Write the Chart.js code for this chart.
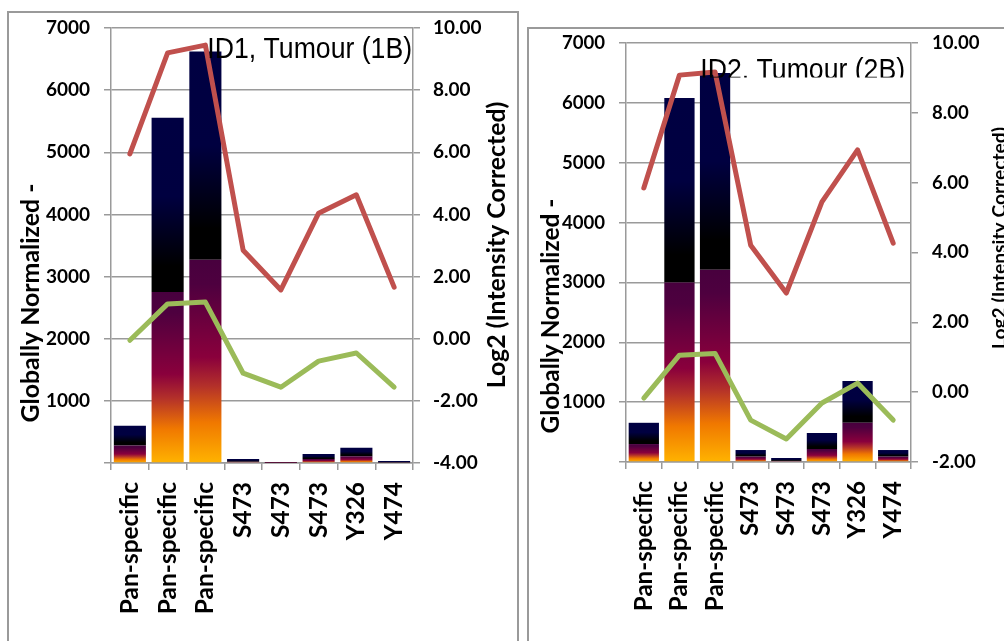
<!DOCTYPE html>
<html><head><meta charset="utf-8">
<script src="https://cdn.jsdelivr.net/npm/chart.js@4.4.1/dist/chart.umd.min.js"></script>
<style>
html,body{margin:0;padding:0;background:#fff;}
body{width:1004px;height:641px;overflow:hidden;position:relative;}
.frame{position:absolute;border:2px solid #9a9a9a;box-sizing:border-box;}
canvas{position:absolute;}
</style></head><body>
<div class="frame" style="left:7px;top:11px;width:512px;height:660px"></div>
<div class="frame" style="left:527px;top:27px;width:500px;height:660px"></div>
<canvas id="c1" width="508" height="628" style="left:9px;top:13px"></canvas>
<canvas id="c2" width="475" height="612" style="left:529px;top:29px"></canvas>
<script>
// ---- data ----
const categories = ['Pan-specific','Pan-specific','Pan-specific','S473','S473','S473','Y326','Y474'];
const id1Lower = [280, 2750, 3270, 20, 5, 65, 110, 10];
const id1Upper = [320, 2805, 3350, 45, 10, 80, 135, 22];
const id1Red   = [5.95, 9.2, 9.45, 2.85, 1.57, 4.04, 4.63, 1.66];
const id1Green = [-0.05, 1.12, 1.18, -1.11, -1.56, -0.72, -0.46, -1.56];
const id2Lower = [300, 3000, 3210, 90, 18, 217, 655, 90];
const id2Upper = [355, 3080, 3290, 110, 49, 268, 700, 110];
const id2Red   = [5.85, 9.08, 9.17, 4.21, 2.84, 5.45, 6.94, 4.27];
const id2Green = [-0.17, 1.06, 1.11, -0.80, -1.34, -0.31, 0.26, -0.80];
const countTicks = [0, 1000, 2000, 3000, 4000, 5000, 6000, 7000];
const log2TicksID1 = [-4, -2, 0, 2, 4, 6, 8, 10];
const log2TicksID2 = [-2, 0, 2, 4, 6, 8, 10];
const titles = ['ID1, Tumour (1B)', 'ID2. Tumour (2B)'];
const leftTitle = 'Globally Normalized -';
const rightTitle = 'Log2 (Intensity Corrected)';

// ---- helpers ----
const FAM = 'Lato, "Open Sans", sans-serif';
const mctx = document.createElement('canvas').getContext('2d');
function fit(text, weight, family, target) {
  mctx.font = weight + ' 100px ' + family;
  const m = mctx.measureText(text);
  const w = (m.actualBoundingBoxLeft + m.actualBoundingBoxRight) || m.width;
  return 100 * target / w;
}
const GRID = '#9a9a9a';

function upperGrad(ctx, lower, upper) {
  const chart = ctx.chart;
  if (!chart.chartArea || ctx.dataIndex === undefined) return '#000040';
  const y = chart.scales.y, i = ctx.dataIndex;
  const y0 = y.getPixelForValue(lower[i] + upper[i]);
  const y1 = y.getPixelForValue(lower[i]);
  if (!isFinite(y0) || !isFinite(y1) || y1 - y0 < 0.5) return '#000040';
  const g = chart.ctx.createLinearGradient(0, y0, 0, y1);
  g.addColorStop(0, '#000042');
  g.addColorStop(0.45, '#000040');
  g.addColorStop(0.85, '#000000');
  g.addColorStop(1, '#000000');
  return g;
}
function lowerGrad(ctx, lower) {
  const chart = ctx.chart;
  if (!chart.chartArea || ctx.dataIndex === undefined) return '#8a003c';
  const y = chart.scales.y, i = ctx.dataIndex;
  const y0 = y.getPixelForValue(lower[i]);
  const y1 = y.getPixelForValue(0);
  if (!isFinite(y0) || !isFinite(y1) || y1 - y0 < 0.5) return '#8a003c';
  const g = chart.ctx.createLinearGradient(0, y0, 0, y1);
  g.addColorStop(0, '#48003e');
  g.addColorStop(0.12, '#4e003f');
  g.addColorStop(0.48, '#8a003c');
  g.addColorStop(0.62, '#b3302a');
  g.addColorStop(0.8, '#f07800');
  g.addColorStop(1, '#ffb300');
  return g;
}

function textPlugin(items) {
  return {
    id: 'panelText',
    afterDraw(chart) {
      const c = chart.ctx;
      for (const t of items) {
        c.save();
        if (t.clip) { c.beginPath(); c.rect(t.clip[0], t.clip[1], t.clip[2], t.clip[3]); c.clip(); }
        c.font = t.weight + ' ' + t.size + 'px ' + t.family;
        c.fillStyle = '#000';
        c.translate(t.x, t.y);
        if (t.rotate) c.rotate(-Math.PI / 2);
        if (t.sy) c.scale(1, t.sy);
        c.textAlign = t.align;
        c.textBaseline = t.baseline;
        c.fillText(t.text, 0, 0);
        c.restore();
      }
    }
  };
}

function noPad(s) { s.paddingTop = 0; s.paddingBottom = 0; }

function makeChart(id, cfg) {
  const tickFont = { family: FAM, weight: 'bold', size: cfg.tickSize };
  const xFont = { family: FAM, weight: 'bold', size: cfg.xSize };
  return new Chart(document.getElementById(id), {
    data: {
      labels: categories,
      datasets: [
        { type: 'line', data: cfg.red, yAxisID: 'y1', borderColor: '#c0504d', borderWidth: 5,
          pointRadius: 0, tension: 0, order: 0, borderCapStyle: 'round', borderJoinStyle: 'round' },
        { type: 'line', data: cfg.green, yAxisID: 'y1', borderColor: '#9bbb59', borderWidth: 5,
          pointRadius: 0, tension: 0, order: 0, borderCapStyle: 'round', borderJoinStyle: 'round' },
        { type: 'bar', data: cfg.lower, yAxisID: 'y', stack: 's', order: 1,
          backgroundColor: (ctx) => lowerGrad(ctx, cfg.lower),
          categoryPercentage: 1, barPercentage: 0.85 },
        { type: 'bar', data: cfg.upper, yAxisID: 'y', stack: 's', order: 1,
          backgroundColor: (ctx) => upperGrad(ctx, cfg.lower, cfg.upper),
          categoryPercentage: 1, barPercentage: 0.85 }
      ]
    },
    options: {
      responsive: false, animation: false, devicePixelRatio: 1,
      layout: { padding: { top: cfg.padTop, left: 0, right: 0, bottom: 0 } },
      plugins: { legend: { display: false }, tooltip: { enabled: false } },
      scales: {
        x: {
          stacked: true, offset: true,
          grid: { offset: true, drawOnChartArea: false, drawTicks: true, tickLength: 7, color: GRID, lineWidth: 1.5 },
          border: { display: true, color: GRID, width: 1.5 },
          ticks: { autoSkip: false, minRotation: 90, maxRotation: 90, padding: 12, color: '#000', font: xFont },
          afterFit: (s) => { s.height = cfg.xHeight; s.paddingLeft = 0; s.paddingRight = 0; }
        },
        y: {
          position: 'left', stacked: true, min: countTicks[0], max: countTicks[countTicks.length - 1],
          afterBuildTicks: (s) => { s.ticks = countTicks.map(v => ({ value: v })); },
          grid: { color: GRID, lineWidth: 1.5, tickLength: 7 },
          border: { display: true, color: GRID, width: 1.5 },
          ticks: { padding: 14, color: '#000', font: tickFont, callback: (v) => v === 0 ? '' : String(v) },
          afterFit: (s) => { s.width = cfg.yWidth; noPad(s); }
        },
        y1: {
          position: 'right', min: cfg.log2Ticks[0], max: cfg.log2Ticks[cfg.log2Ticks.length - 1],
          afterBuildTicks: (s) => { s.ticks = cfg.log2Ticks.map(v => ({ value: v })); },
          grid: { drawOnChartArea: false, color: GRID, lineWidth: 1.5, tickLength: 7 },
          border: { display: true, color: GRID, width: 1.5 },
          ticks: { padding: cfg.y1Pad, color: '#000', font: tickFont, callback: (v) => Number(v).toFixed(2) },
          afterFit: (s) => { s.width = cfg.y1Width; noPad(s); }
        }
      }
    },
    plugins: [textPlugin(cfg.texts)]
  });
}

const tick1 = fit('7000', 'bold', FAM, 43);
const tick2 = fit('7000', 'bold', FAM, 42);
const xs1 = fit('Pan-specific', 'bold', FAM, 130);
const xs2 = fit('Pan-specific', 'bold', FAM, 128);
const ts1 = fit(titles[0], 'normal', '"Liberation Sans", Arial, sans-serif', 201);
const ts2 = fit(titles[1], 'normal', '"Liberation Sans", Arial, sans-serif', 201);

makeChart('c1', {
  lower: id1Lower, upper: id1Upper, red: id1Red, green: id1Green, log2Ticks: log2TicksID1,
  tickSize: tick1, xSize: xs1, padTop: 15, yWidth: 102, y1Width: 104, xHeight: 178, y1Pad: 13,
  texts: [
    { text: titles[0], x: 403, y: 45, align: 'right', baseline: 'alphabetic', weight: 'normal', size: ts1,
      family: '"Liberation Sans", Arial, sans-serif', sy: 1.13 },
    { text: leftTitle, x: 22, y: 290, rotate: true, align: 'center', baseline: 'middle', weight: 'bold',
      size: fit(leftTitle, 'bold', FAM, 237), family: FAM },
    { text: rightTitle, x: 488, y: 232, rotate: true, align: 'center', baseline: 'middle', weight: 'bold',
      size: fit(rightTitle, 'bold', FAM, 284), family: FAM }
  ]
});

makeChart('c2', {
  lower: id2Lower, upper: id2Upper, red: id2Red, green: id2Green, log2Ticks: log2TicksID2,
  tickSize: tick2, xSize: xs2, padTop: 14, yWidth: 97, y1Width: 93, xHeight: 179, y1Pad: 14,
  texts: [
    { text: titles[1], x: 376, y: 50, align: 'right', baseline: 'alphabetic', weight: 'normal', size: ts2,
      family: '"Liberation Sans", Arial, sans-serif', sy: 1.13, clip: [0, 0, 475, 48.5] },
    { text: leftTitle, x: 22, y: 287, rotate: true, align: 'center', baseline: 'middle', weight: 'bold',
      size: fit(leftTitle, 'bold', FAM, 233), family: FAM },
    { text: rightTitle, x: 471, y: 209, rotate: true, align: 'center', baseline: 'middle', weight: 'bold',
      size: fit(rightTitle, 'bold', FAM, 220), family: FAM }
  ]
});
</script>
</body></html>
